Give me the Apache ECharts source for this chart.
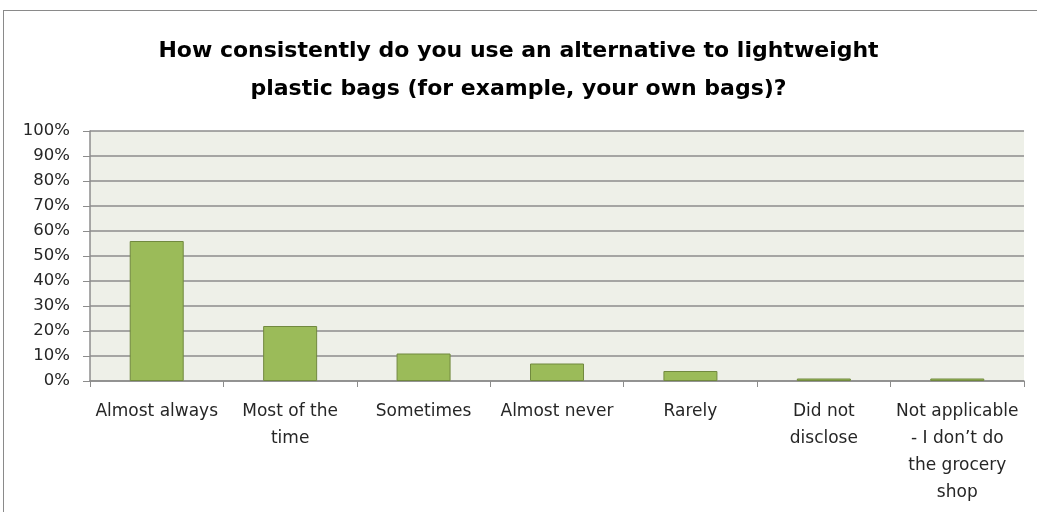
<!DOCTYPE html>
<html>
<head>
<meta charset="utf-8">
<script src="https://cdn.jsdelivr.net/npm/echarts@6/dist/echarts.min.js"></script>
<style>
  html, body { margin: 0; padding: 0; background: #fff; }
  #main { width: 1037px; height: 512px; }
  #frame { position: absolute; left: 3px; top: 10px; width: 1040px; height: 520px; border: 1px solid #8a8a8a; box-sizing: border-box; pointer-events: none; }
</style>
</head>
<body>
<div id="main"></div>
<div id="frame"></div>
<script>
// chart data
var categories = ['Almost always', 'Most of the\ntime', 'Sometimes', 'Almost never', 'Rarely', 'Did not\ndisclose', 'Not applicable\n- I don\u2019t do\nthe grocery\nshop'];
var percentValues = [56, 22, 11, 7, 4, 1, 1];
var yTicks = [0, 10, 20, 30, 40, 50, 60, 70, 80, 90, 100];

var myChart = echarts.init(document.getElementById('main'));

var option = {
    backgroundColor: '#ffffff',
    title: {
        text: 'How consistently do you use an alternative to lightweight\nplastic bags (for example, your own bags)?',
        left: 'center',
        top: 27,
        textStyle: {
            fontFamily: 'DejaVu Sans',
            fontSize: 22,
            fontWeight: 'bold',
            color: '#000',
            lineHeight: 38
        }
    },
    grid: {
        left: 90,
        right: 13,
        top: 131,
        bottom: 131,
        show: true,
        backgroundColor: '#eef0e8',
        borderWidth: 0
    },
    xAxis: {
        type: 'category',
        data: categories,
        axisLine: { lineStyle: { color: '#8c8c8c', width: 1.5 } },
        axisTick: { show: true, alignWithLabel: false, length: 6, lineStyle: { color: '#8c8c8c' } },
        axisLabel: {
            interval: 0,
            color: '#262626',
            fontFamily: 'DejaVu Sans',
            fontSize: 17,
            lineHeight: 27,
            margin: 17
        }
    },
    yAxis: {
        type: 'value',
        min: yTicks[0],
        max: yTicks[yTicks.length - 1],
        interval: 10,
        axisLine: { show: true, lineStyle: { color: '#8c8c8c', width: 1.5 } },
        axisTick: { show: true, inside: false, length: 7, lineStyle: { color: '#8c8c8c' } },
        splitLine: { lineStyle: { color: '#8c8c8c', width: 1.5 } },
        axisLabel: {
            formatter: '{value}%',
            color: '#262626',
            fontFamily: 'DejaVu Sans',
            fontSize: 16.5,
            margin: 20
        }
    },
    series: [
        {
            name: 'Share',
            type: 'bar',
            data: percentValues,
            barWidth: 54,
            itemStyle: {
                color: '#9bbb59',
                borderColor: '#71893f',
                borderWidth: 1
            }
        }
    ]
};
myChart.setOption(option);
</script>
</body>
</html>
